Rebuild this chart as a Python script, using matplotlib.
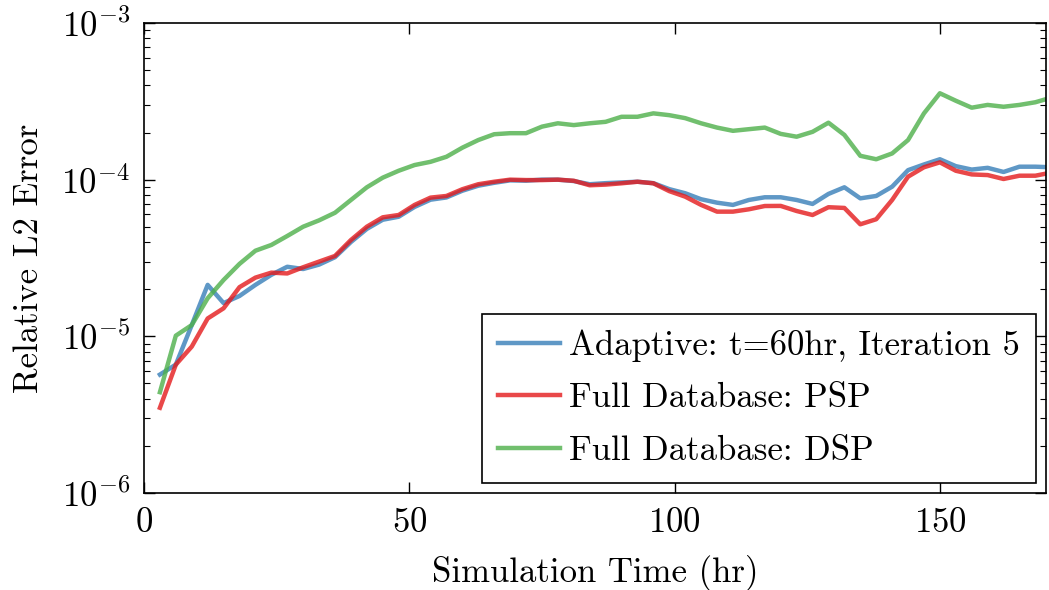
import numpy as np
import matplotlib
matplotlib.use("Agg")
import matplotlib.pyplot as plt

plt.rcParams["font.family"] = ["cmr10", "DejaVu Serif"]
plt.rcParams["mathtext.fontset"] = "cm"
plt.rcParams["axes.unicode_minus"] = False
plt.rcParams["axes.formatter.use_mathtext"] = True

# Simulation time (hr)
time_hr = np.arange(3, 172, 3)

adaptive = [
    5.7e-6, 6.6e-6, 1.18e-5, 2.13e-5, 1.63e-5, 1.81e-5, 2.13e-5, 2.47e-5, 2.78e-5, 2.69e-5, 2.87e-5,
    3.2e-5, 4.0e-5, 4.85e-5, 5.55e-5, 5.8e-5, 6.7e-5, 7.45e-5, 7.7e-5, 8.5e-5, 9.15e-5, 9.55e-5,
    9.9e-5, 9.85e-5, 1.0e-4, 1.0e-4, 9.8e-5, 9.35e-5, 9.5e-5, 9.6e-5, 9.7e-5, 9.5e-5,
    8.7e-5, 8.19e-5, 7.5e-5, 7.13e-5, 6.9e-5, 7.42e-5, 7.72e-5, 7.72e-5, 7.42e-5, 7.0e-5, 8.11e-5, 8.94e-5,
    7.6e-5, 7.87e-5, 9.02e-5, 1.15e-4, 1.25e-4, 1.35e-4, 1.22e-4, 1.16e-4, 1.19e-4, 1.12e-4, 1.21e-4, 1.21e-4, 1.20e-4,
]

full_psp = [
    3.5e-6, 6.6e-6, 8.6e-6, 1.30e-5, 1.51e-5, 2.06e-5, 2.37e-5, 2.55e-5, 2.52e-5, 2.76e-5, 3.0e-5,
    3.26e-5, 4.12e-5, 5.01e-5, 5.75e-5, 5.95e-5, 6.9e-5, 7.68e-5, 7.87e-5, 8.69e-5, 9.35e-5, 9.7e-5,
    1.0e-4, 9.94e-5, 9.94e-5, 1.0e-4, 9.84e-5, 9.21e-5, 9.3e-5, 9.48e-5, 9.7e-5, 9.48e-5,
    8.45e-5, 7.79e-5, 6.9e-5, 6.25e-5, 6.25e-5, 6.47e-5, 6.79e-5, 6.8e-5, 6.31e-5, 5.95e-5, 6.67e-5, 6.6e-5,
    5.19e-5, 5.59e-5, 7.42e-5, 1.045e-4, 1.20e-4, 1.29e-4, 1.14e-4, 1.08e-4, 1.07e-4, 1.01e-4, 1.06e-4, 1.06e-4, 1.11e-4,
]

full_dsp = [
    4.4e-6, 1.01e-5, 1.18e-5, 1.75e-5, 2.29e-5, 2.9e-5, 3.52e-5, 3.83e-5, 4.37e-5, 5.01e-5, 5.5e-5,
    6.15e-5, 7.42e-5, 8.94e-5, 1.03e-4, 1.14e-4, 1.24e-4, 1.30e-4, 1.40e-4, 1.60e-4, 1.79e-4, 1.95e-4,
    1.98e-4, 1.98e-4, 2.18e-4, 2.29e-4, 2.23e-4, 2.29e-4, 2.34e-4, 2.52e-4, 2.52e-4, 2.65e-4,
    2.58e-4, 2.47e-4, 2.29e-4, 2.15e-4, 2.05e-4, 2.10e-4, 2.15e-4, 1.96e-4, 1.88e-4, 2.02e-4, 2.31e-4, 1.93e-4,
    1.42e-4, 1.35e-4, 1.47e-4, 1.79e-4, 2.65e-4, 3.56e-4, 3.19e-4, 2.88e-4, 3.0e-4, 2.92e-4, 3.0e-4, 3.12e-4, 3.34e-4,
]

labels = ["Adaptive: t=60hr, Iteration 5", "Full Database: PSP", "Full Database: DSP"]
colors = ["#377eb8", "#e41a1c", "#4daf4a"]

FS = 25

fig = plt.figure(figsize=(10.49, 5.90), dpi=100)
ax = fig.add_axes([144 / 1049, 1 - 493 / 590, (1046 - 144) / 1049, (493 - 23) / 590])

for series, lab, col in zip([adaptive, full_psp, full_dsp], labels, colors):
    ax.plot(time_hr, series, color=col, alpha=0.8, lw=3.2, label=lab)

ax.set_yscale("log")
ax.set_xlim(0, 170)
ax.set_ylim(1e-6, 1e-3)
ax.set_xticks([0, 50, 100, 150])

ax.tick_params(which="both", direction="in", top=True, right=True, labelsize=FS, pad=10)
ax.tick_params(which="major", length=8, width=1)
ax.tick_params(which="minor", length=4, width=0.8)
for s in ax.spines.values():
    s.set_linewidth(1.2)

ax.set_xlabel("Simulation Time (hr)", fontsize=FS, labelpad=12)
ax.set_ylabel("Relative L2 Error", fontsize=FS, labelpad=12)

leg = ax.legend(loc="lower right", fontsize=FS, fancybox=False, framealpha=1,
                edgecolor="black", borderaxespad=0.3, handlelength=1.8,
                handletextpad=0.25, labelspacing=0.6, borderpad=0.45)
leg.get_frame().set_linewidth(1.2)

fig.savefig("out.png", dpi=100)
